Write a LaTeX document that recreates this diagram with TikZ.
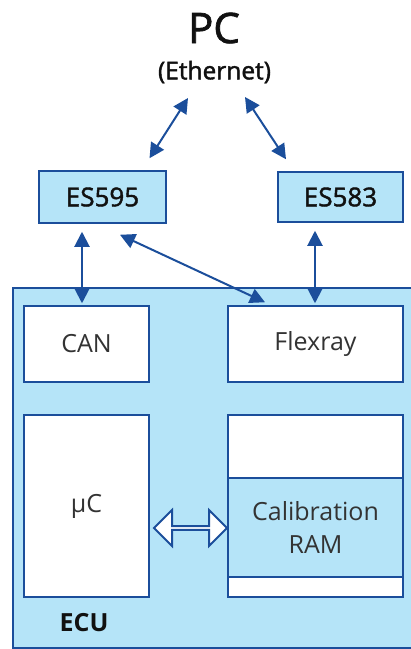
\documentclass[tikz,border=0pt]{standalone}
\usepackage{fontspec}
\setmainfont{Open Sans}
\newfontfamily\medfont{Open Sans}[FakeBold=1.6]
\usetikzlibrary{calc,arrows.meta,shapes.arrows}
\definecolor{etasBlue}{HTML}{1B4E9B}
\definecolor{ecuFill}{HTML}{B5E4F8}
\definecolor{partText}{HTML}{333333}
\definecolor{toolText}{HTML}{111111}
\tikzset{
  ecubox/.style={rectangle, draw=etasBlue, fill=ecuFill, line width=1.5pt, inner sep=0pt},
  partbox/.style={rectangle, draw=etasBlue, fill=white, line width=1.5pt, align=center, font=\fontsize{25}{33}\selectfont, text=partText, inner sep=0pt},
  toolbox/.style={rectangle, draw=etasBlue, fill=ecuFill, line width=1.5pt, align=center, font=\medfont\fontsize{26}{28}\selectfont, text=toolText, inner sep=0pt},
  linkarrow/.style={{Triangle[length=15pt,width=15pt]}-{Triangle[length=15pt,width=15pt]}, line width=2pt, draw=etasBlue},
  memarrow/.style={double arrow, draw=etasBlue, fill=white, line width=2pt, minimum width=36pt, minimum height=73pt, double arrow head extend=9pt, inner sep=0pt},
}
\begin{document}
\begin{tikzpicture}[x=1pt,y=-1pt]
  \useasboundingbox (0,0) rectangle (411,649);

  % PC side
  \node[font=\medfont\fontsize{42}{44}\selectfont, text=toolText] (pc) at (214,28) {PC};
  \node[font=\medfont\fontsize{24.5}{26}\selectfont, text=toolText] (eth) at (214.5,72) {(Ethernet)};
  \coordinate (ethl) at (188,98);
  \coordinate (ethr) at (245,97);

  % calibration tools
  \node[toolbox, minimum width=127pt, minimum height=52pt] (es595) at (102.5,197) {ES595};
  \node[toolbox, minimum width=125pt, minimum height=50pt] (es583) at (340.5,197) {ES583};

  % control unit
  \node[ecubox, minimum width=412pt, minimum height=360pt] (ecu) at (219,468) {};
  \node[font=\fontsize{25}{28}\selectfont\bfseries, text=toolText] (ecul) at (84,623) {ECU};
  \node[partbox, minimum width=125pt, minimum height=76pt] (can) at (86.5,344) {CAN};
  \node[partbox, minimum width=175pt, minimum height=76pt] (flexray) at (315.5,344) {Flexray};
  \node[partbox, minimum width=125pt, minimum height=182pt] (uc) at (86.5,506) {µC};
  \node[partbox, minimum width=175pt, minimum height=182pt] (ram) at (315.5,506) {};
  \node[partbox, fill=ecuFill, minimum width=175pt, minimum height=99pt] (calram) at (315.5,527.5) {Calibration\\RAM};
  \node[memarrow] (memlink) at (190.5,528) {};

  \draw[linkarrow] (ethl) -- ($(es595.north)+(47,-12)$);
  \draw[linkarrow] (ethr) -- ($(es583.north)+(-54.5,-12)$);
  \draw[linkarrow] ($(es595.south)+(-20.5,8)$) -- ($(can.north)+(-4.5,-2)$);
  \draw[linkarrow] ($(es583.south)+(-25.5,8)$) -- ($(flexray.north)+(-0.5,-2)$);
  \draw[linkarrow] ($(es595.south)+(17.5,11)$) -- ($(flexray.north)+(-50.5,-3)$);
\end{tikzpicture}
\end{document}
